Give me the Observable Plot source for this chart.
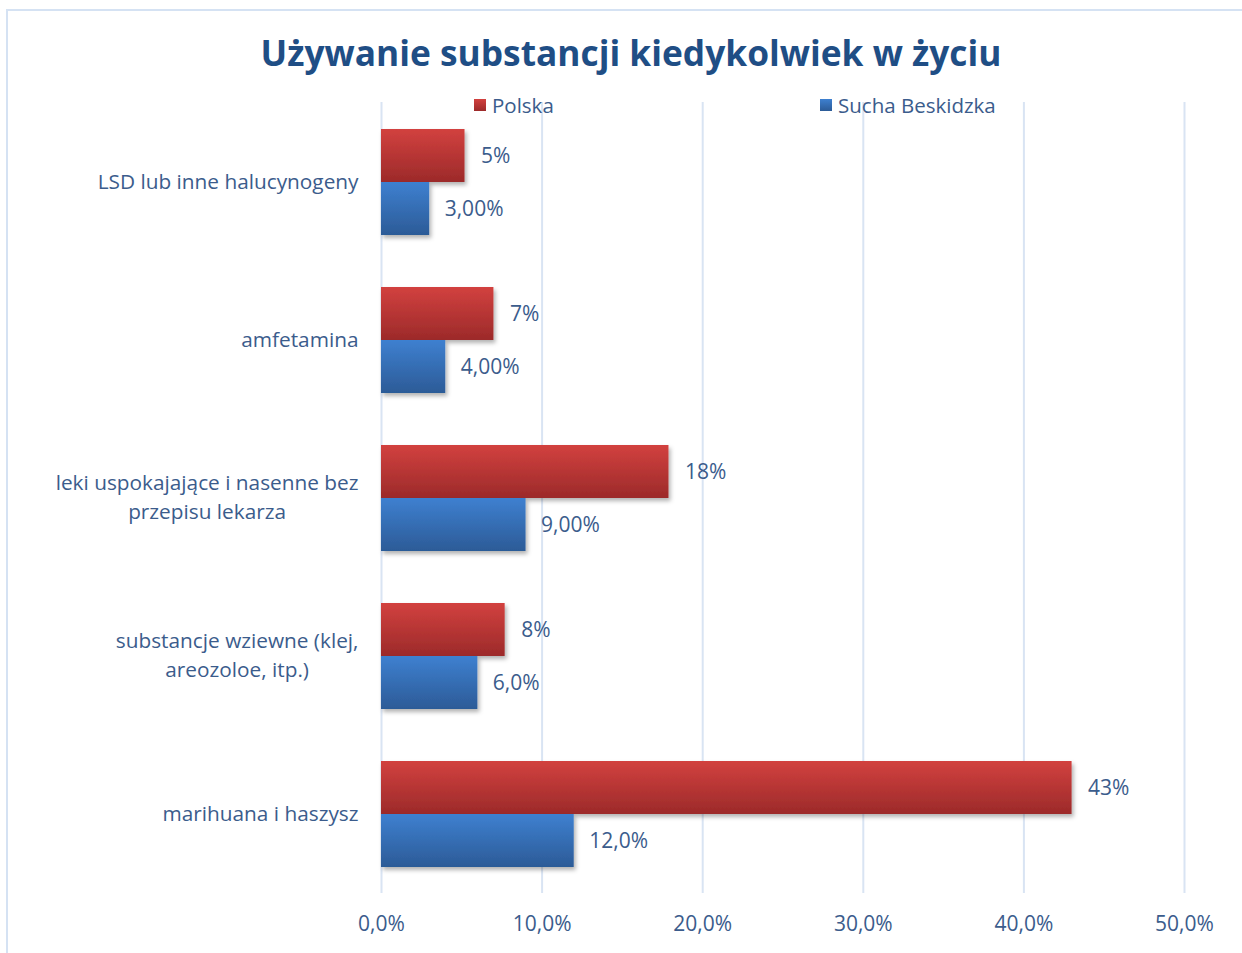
<!DOCTYPE html>
<html>
<head>
<meta charset="utf-8">
<script src="https://cdn.jsdelivr.net/npm/d3@7"></script>
<script src="https://cdn.jsdelivr.net/npm/@observablehq/plot@0.6"></script>
<style>
  html, body { margin: 0; padding: 0; background: #fff; }
  #page { position: relative; width: 1242px; height: 953px; overflow: hidden; font-family: "Open Sans", sans-serif; }
  #frame { position: absolute; left: 6px; top: 9px; right: -4px; bottom: -4px; border-left: 2px solid #d5e2f3; border-top: 2px solid #d5e2f3; }
  #title { position: absolute; left: 20px; right: 0; top: 28px; text-align: center; font-weight: 700; font-size: 35.3px; color: #1f4e85; z-index: 2; }
  .leg { position: absolute; top: 91px; font-size: 20.5px; color: #3b5c8c; z-index: 2; display: flex; align-items: center; white-space: nowrap; }
  .sw { width: 12px; height: 12px; margin-right: 6px; }
  #chart { position: absolute; left: 0; top: 0; }
</style>
</head>
<body>
<div id="page">
  <div id="frame"></div>
  <div id="chart"></div>
  <div id="title"></div>
  <div id="legend"></div>
</div>
<script>
const titleText = "Używanie substancji kiedykolwiek w życiu";
const seriesNames = ["Polska", "Sucha Beskidzka"];
const categories = [
  "LSD lub inne halucynogeny",
  "amfetamina",
  "leki uspokajające i nasenne bez\nprzepisu lekarza",
  "substancje wziewne (klej,\nareozoloe, itp.)",
  "marihuana i haszysz"
];
const polskaValues = [5.2, 7.0, 17.9, 7.7, 43.0];
const polskaLabels = ["5%", "7%", "18%", "8%", "43%"];
const suchaValues = [3.0, 4.0, 9.0, 6.0, 12.0];
const suchaLabels = ["3,00%", "4,00%", "9,00%", "6,0%", "12,0%"];
const xTicks = [0, 10, 20, 30, 40, 50];
const xTickLabels = ["0,0%", "10,0%", "20,0%", "30,0%", "40,0%", "50,0%"];

const polska = categories.map((c, i) => ({category: c, value: polskaValues[i], label: polskaLabels[i]}));
const sucha = categories.map((c, i) => ({category: c, value: suchaValues[i], label: suchaLabels[i]}));

const textColor = "#3b5c8c";

function defs() {
  const ns = "http://www.w3.org/2000/svg";
  const d = document.createElementNS(ns, "defs");
  d.innerHTML = `
    <linearGradient id="gRed" x1="0" y1="0" x2="0" y2="1">
      <stop offset="0" stop-color="#d2413f"/>
      <stop offset="1" stop-color="#9c2a2a"/>
    </linearGradient>
    <linearGradient id="gBlue" x1="0" y1="0" x2="0" y2="1">
      <stop offset="0" stop-color="#3e80d0"/>
      <stop offset="1" stop-color="#2c5b97"/>
    </linearGradient>
    <filter id="shadow" x="-5%" y="-10%" width="115%" height="140%">
      <feDropShadow dx="2" dy="3" stdDeviation="2" flood-color="#000" flood-opacity="0.3"/>
    </filter>`;
  return d;
}

const chart = Plot.plot({
  width: 1242,
  height: 953,
  marginLeft: 381,
  marginRight: 58,
  marginTop: 102,
  marginBottom: 60,
  style: {fontFamily: "'Open Sans', sans-serif", fontSize: "20px", color: textColor, background: "transparent"},
  x: {domain: [0, 50], axis: null},
  y: {domain: categories, paddingInner: 0.33, paddingOuter: 0.165, axis: null},
  marks: [
    defs,
    Plot.ruleX(xTicks, {stroke: "#d9e4f3", strokeWidth: 2}),
    Plot.axisX({ticks: xTicks, label: null, tickSize: 0, tickPadding: 23, tickFormat: (d) => xTickLabels[xTicks.indexOf(d)], fontSize: 21, fill: textColor}),
    Plot.axisY({label: null, tickSize: 0, tickPadding: 23, fontSize: 20.8, lineHeight: 1.35, dy: -3, fill: textColor}),
    Plot.barX(polska, {x: "value", y: "category", fill: "url(#gRed)", insetBottom: 53}),
    Plot.barX(sucha, {x: "value", y: "category", fill: "url(#gBlue)", insetTop: 53}),
    Plot.text(polska, {x: "value", y: "category", text: "label", textAnchor: "start", dx: 16, dy: -26.5, fill: textColor, fontSize: 21}),
    Plot.text(sucha, {x: "value", y: "category", text: "label", textAnchor: "start", dx: 15, dy: 26.5, fill: textColor, fontSize: 21})
  ]
});
document.getElementById("chart").appendChild(chart);

// bar shadows
chart.querySelectorAll('g[aria-label="bar"]').forEach(g => g.setAttribute("filter", "url(#shadow)"));

// center multi-line y tick labels, block right-aligned to the axis
chart.querySelectorAll('g[aria-label="y-axis tick label"] text').forEach(t => {
  const spans = t.querySelectorAll("tspan");
  if (spans.length > 1) {
    let w = 0;
    spans.forEach(s => { w = Math.max(w, s.getComputedTextLength()); });
    t.setAttribute("text-anchor", "middle");
    spans.forEach(s => s.setAttribute("x", -w / 2));
  }
});

document.getElementById("title").textContent = titleText;
const legendColors = ["linear-gradient(#d2413f,#9c2a2a)", "linear-gradient(#3e80d0,#2c5b97)"];
const legendLeft = [474, 820];
const legend = document.getElementById("legend");
seriesNames.forEach((name, i) => {
  const item = document.createElement("div");
  item.className = "leg";
  item.style.left = legendLeft[i] + "px";
  const sw = document.createElement("span");
  sw.className = "sw";
  sw.style.background = legendColors[i];
  const label = document.createElement("span");
  label.textContent = name;
  item.appendChild(sw);
  item.appendChild(label);
  legend.appendChild(item);
});
</script>
</body>
</html>
